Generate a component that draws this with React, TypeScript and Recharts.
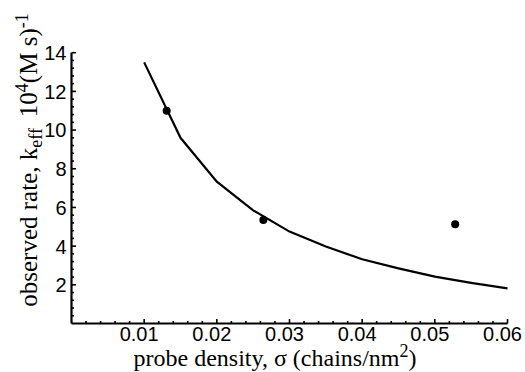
import { ScatterChart, Scatter, XAxis, YAxis } from "recharts";

// fitted curve (k_eff, 10^4 (M s)^-1) vs probe density (chains/nm^2)
const curveDensity = [0.01, 0.015, 0.02, 0.025, 0.03, 0.035, 0.04, 0.045, 0.05, 0.055, 0.06];
const curveRate = [13.5, 9.6, 7.33, 5.85, 4.75, 3.98, 3.32, 2.85, 2.42, 2.1, 1.82];

// measured points
const pointDensity = [0.0131, 0.0264, 0.0528];
const pointRate = [11.0, 5.35, 5.13];

// tick labels
const xMajorTicks = [0.01, 0.02, 0.03, 0.04, 0.05, 0.06];
const yMajorTicks = [2, 4, 6, 8, 10, 12, 14];

const curveData = curveDensity.map((x, i) => ({ x, y: curveRate[i] }));
const pointData = pointDensity.map((x, i) => ({ x, y: pointRate[i] }));

// minor ticks every 0.002 on x, every 0.4 on y
const xTicks: number[] = [];
for (let i = 1; i <= 30; i++) xTicks.push(Number((i * 0.002).toFixed(4)));
const yTicks: number[] = [];
for (let i = 1; i <= 35; i++) yTicks.push(Number((i * 0.4).toFixed(2)));

const isMajorX = (v: number) => xMajorTicks.some((t) => Math.abs(t - v) < 1e-6);
const isMajorY = (v: number) => yMajorTicks.some((t) => Math.abs(t - v) < 1e-6);

const tickFont = "'Liberation Sans', Arial, sans-serif";
const titleFont = "'Liberation Serif', 'Times New Roman', serif";

const AXIS_Y = 323.5;
const AXIS_X = 71.5;

const XTick = (props: any) => {
  const { x, payload } = props;
  const y = AXIS_Y;
  const major = isMajorX(payload.value);
  return (
    <g>
      <line x1={x} x2={x} y1={y} y2={y - (major ? 4.5 : 2.5)} stroke="#000" strokeWidth={1.6} />
      {major && (
        <text x={x - 5} y={y + 17} textAnchor="middle" fontFamily={tickFont} fontSize={20} fill="#000">
          {payload.value.toFixed(2)}
        </text>
      )}
    </g>
  );
};

const YTick = (props: any) => {
  const { y, payload } = props;
  const x = AXIS_X;
  const major = isMajorY(payload.value);
  return (
    <g>
      <line x1={x} x2={x + (major ? 4.5 : 2.5)} y1={y} y2={y} stroke="#000" strokeWidth={1.6} />
      {major && (
        <text x={x - 5} y={y} dy="0.37em" textAnchor="end" fontFamily={tickFont} fontSize={20} fill="#000">
          {payload.value}
        </text>
      )}
    </g>
  );
};

const Dot = (props: any) => {
  const { cx, cy } = props;
  return <circle cx={cx} cy={cy} r={4} fill="#000" />;
};

const NoDot = () => null;

export default function App() {
  return (
    <div style={{ position: "absolute", left: 0, top: 0, width: 525, height: 372, background: "#fff" }}>
      <ScatterChart
        width={525}
        height={372}
        margin={{ top: 52.7, right: 17.5, bottom: 0.5, left: 0 }}
      >
        <XAxis
          type="number"
          dataKey="x"
          domain={[0, 0.06]}
          ticks={xTicks}
          interval={0}
          height={48}
          tickSize={0}
          tickMargin={0}
          tickLine={false}
          tick={<XTick />}
          axisLine={{ stroke: "#000", strokeWidth: 2.2 }}
        />
        <YAxis
          type="number"
          dataKey="y"
          domain={[0, 14]}
          ticks={yTicks}
          interval={0}
          width={AXIS_X}
          tickSize={0}
          tickMargin={0}
          tickLine={false}
          tick={<YTick />}
          axisLine={{ stroke: "#000", strokeWidth: 2.2 }}
        />
        <Scatter
          data={curveData}
          line={{ stroke: "#000", strokeWidth: 2.2 }}
          shape={<NoDot />}
          isAnimationActive={false}
        />
        <Scatter data={pointData} shape={<Dot />} isAnimationActive={false} />
      </ScatterChart>
      <svg
        width={525}
        height={372}
        style={{ position: "absolute", left: 0, top: 0, pointerEvents: "none" }}
      >
        <text x={275} y={366} textAnchor="middle" fontFamily={titleFont} fontSize={24} fill="#000">
          probe density, σ (chains/nm<tspan dy={-9} fontSize={18}>2</tspan>
          <tspan dy={9}>)</tspan>
        </text>
        <text
          transform="translate(37,160) rotate(-90)"
          textAnchor="middle"
          fontFamily={titleFont}
          fontSize={25}
          fill="#000"
        >
          observed rate, k<tspan dy={5} fontSize={18}>eff</tspan>
          <tspan dy={-5} dx={11}>10</tspan>
          <tspan dy={-9} fontSize={18}>4</tspan>
          <tspan dy={9}>(M s)</tspan>
          <tspan dy={-9} fontSize={18}>-1</tspan>
        </text>
      </svg>
    </div>
  );
}
